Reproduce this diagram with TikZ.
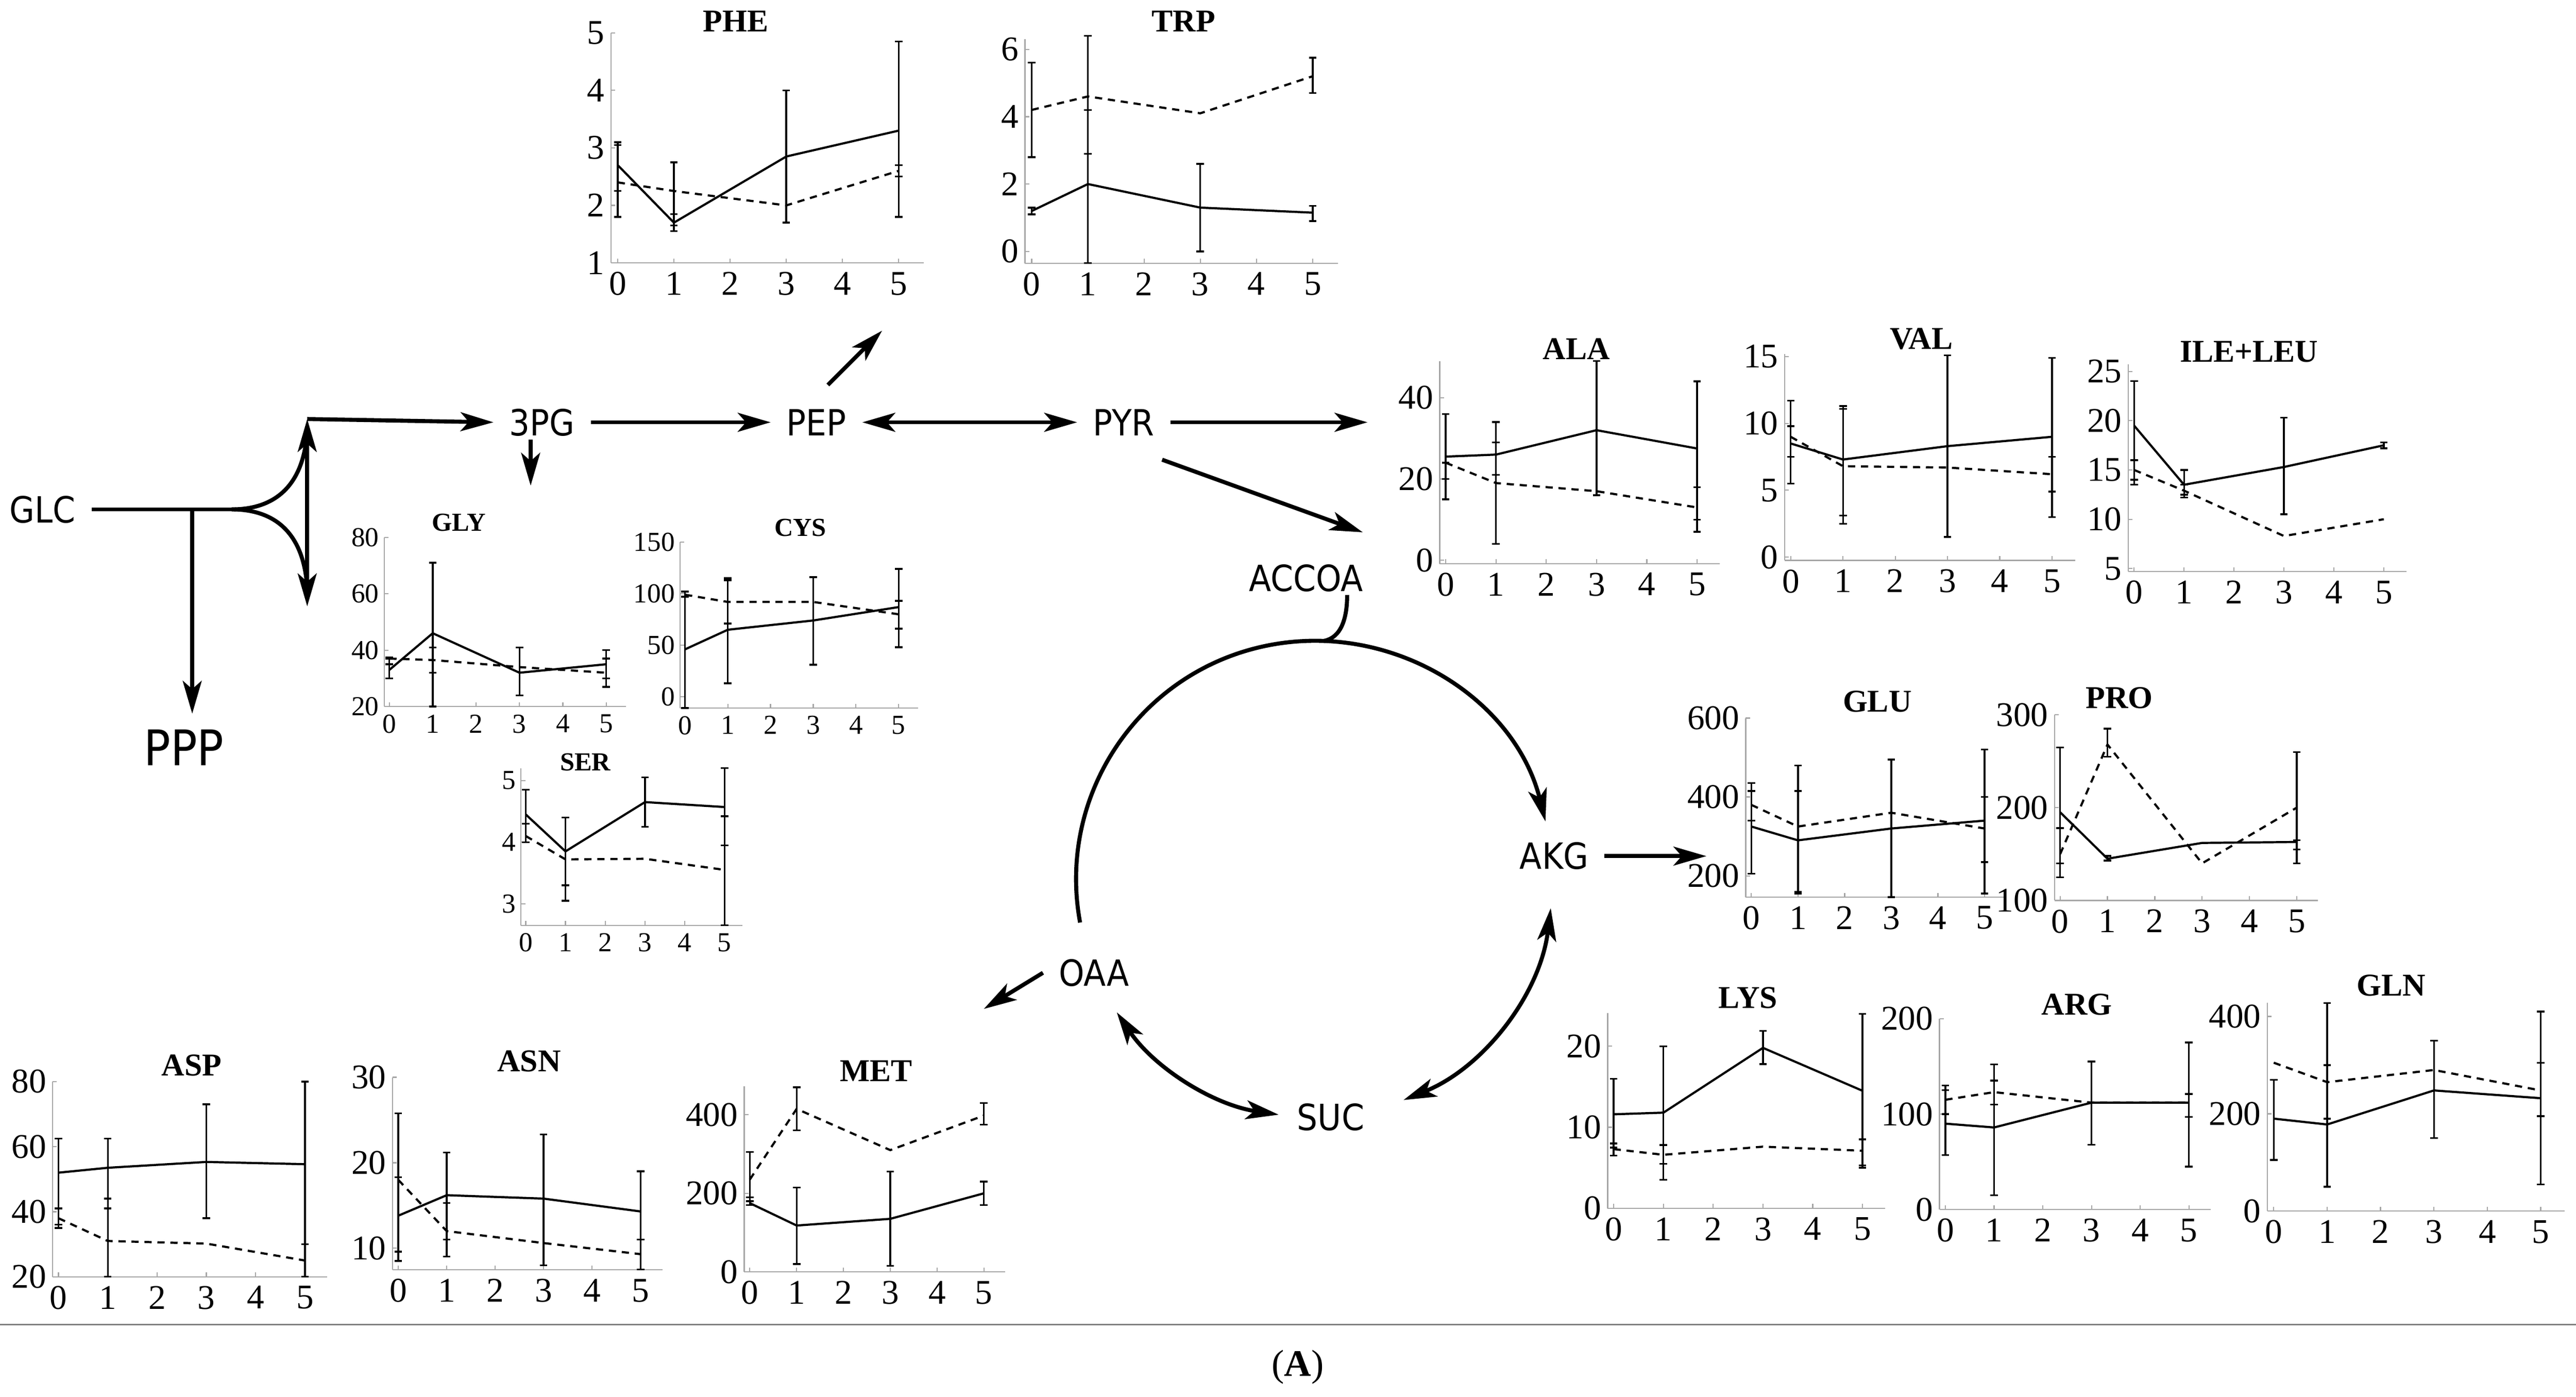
\documentclass[tikz,border=0pt]{standalone}
\usepackage{fontspec}
\setmainfont{Liberation Serif}
\newfontfamily\metfont{DejaVu Sans Condensed}
\usetikzlibrary{arrows.meta,positioning}

\tikzset{
  met/.style={font=\metfont\fontsize{12.5}{14}\selectfont, inner sep=1pt, outer sep=1.6mm},
  flux/.style={line width=1.4pt, >={Stealth[length=4mm,width=2.3mm,inset=1mm]}},
  axis/.style={draw=gray!70, line width=0.4pt},
  nums/.style={font=\fontsize{12}{13}\selectfont, inner sep=2pt},
  ttl/.style={font=\bfseries\fontsize{11}{12}\selectfont},
  ser/.style={line width=0.75pt},
  dsh/.style={line width=0.75pt, dash pattern=on 2.5pt off 2pt},
  ebar/.style={line width=0.6pt},
  plotat/.style n args={5}{shift={(#1,#2)}, x=#3*0.2mm, y=#4*0.2mm, shift={(0,-#5)}},
  small/.style={nums/.style={font=\fontsize{9.5}{10}\selectfont, inner sep=1.6pt},
                ttl/.style={font=\bfseries\fontsize{9}{10}\selectfont}}
}

% axes, ticks and title of one panel
\newcommand\aaframe[5]{%
  \draw[axis] (-0.12,#1) -- (-0.12,#2);
  \draw[axis] (-0.12,#1) -- (5.45,#1);
  \foreach \t in {0,...,5} {
    \draw[axis] (\t,#1) -- ++(0,1.5pt);
    \node[nums,below,yshift=-1pt] at (\t,#1) {\t};
  }
  \foreach \v in {#3} {
    \draw[axis] (-0.12,\v) -- ++(1.5pt,0);
    \node[nums,left] at (-0.12,\v) {\v};
  }
  \node[ttl] at (#5) {#4};
}
\newcommand\ebars[1]{%
  \foreach \xx/\lo/\hi in {#1} {
    \draw[ebar] (\xx,\lo) -- (\xx,\hi);
    \draw[ebar] ([xshift=-1.3pt]\xx,\lo) -- ([xshift=1.3pt]\xx,\lo);
    \draw[ebar] ([xshift=-1.3pt]\xx,\hi) -- ([xshift=1.3pt]\xx,\hi);
  }
}

\begin{document}
\begin{tikzpicture}[x=0.2mm, y=-0.2mm]
\useasboundingbox (0,0) rectangle (1568,850);

% metabolites
\node[met] (glc) at (26,310) {GLC};
\node[met, font=\metfont\fontsize{17}{19}\selectfont] (ppp) at (112,455) {PPP};
\node[met] (pg3) at (330,257) {3PG};
\node[met] (pep) at (497,257) {PEP};
\node[met] (pyr) at (684,257) {PYR};
\node[met] (accoa) at (795,352) {ACCOA};
\node[met] (akg) at (946,521) {AKG};
\node[met] (oaa) at (666,592) {OAA};
\node[met] (suc) at (810,680) {SUC};

\coordinate (split) at (117,310);
\coordinate (fork) at (141,310);
\coordinate (vmid) at (187,310);
\coordinate (up) at (187,255);
\coordinate (dn) at (187,369);

\draw[flux] (glc.east) -- (fork);
\draw[flux,->] (split) -- (split |- ppp.north);
\draw[flux] (fork) .. controls (168,310) and (185,295) .. (187,262);
\draw[flux] (fork) .. controls (168,310) and (185,325) .. (187,358);
\draw[flux,->] (vmid) -- (up);
\draw[flux,->] (vmid) -- (dn);
\draw[flux,->] (187,255) -- (pg3.west);
\draw[flux,->] (pg3.east) -- (pep.west);
\draw[flux,->] ([xshift=-1.4mm,yshift=1.5mm]pg3.south) -- ++(0,28);
\draw[flux,<->] (pep.east) -- (pyr.west);
\draw[flux,->] ([xshift=-4.2mm,yshift=1mm]pep.north east) -- ++(33,-33);
\draw[flux,->] (pyr.east) -- ++(120,0);
\draw[flux,->] ([xshift=-1mm,yshift=-1mm]pyr.south east) -- ([xshift=-2mm,yshift=2mm]accoa.north east);
\draw[flux] ([xshift=5mm,yshift=1.6mm]accoa.south) .. controls +(0,15) and +(10,-2) .. (806,390);
\draw[flux,->] (800,535) ++(169.5:145) arc[start angle=169.5, end angle=346, radius=145];
\draw[flux,<->] (800,535) ++(68:145) arc[start angle=68, end angle=7, radius=145];
\draw[flux,<->] (800,535) ++(146:145) arc[start angle=146, end angle=98.6, radius=145];
\draw[flux,->] (oaa.west) -- ++(-36,22);
\draw[flux,->] (akg.east) -- ++(62,0);

% PHE
\begin{scope}[plotat={376}{160}{34.2}{35}{1}]
\aaframe{1}{5}{1,2,3,4,5}{PHE}{2.1,5.2}
\draw[ser] plot coordinates {(0,2.7) (1,1.7) (3,2.85) (5,3.3)};
\draw[dsh] plot coordinates {(0,2.4) (1,2.25) (3,2.0) (5,2.6)};
\ebars{0/1.8/3.1, 1/1.55/2.75, 3/1.7/4.0, 5/1.8/4.85, 0/2.25/3.05, 1/1.65/1.85, 5/2.5/2.7}
\end{scope}
% TRP
\begin{scope}[plotat={628}{153}{34.2}{20.5}{0}]
\aaframe{-0.35}{6.3}{0,2,4,6}{TRP}{2.7,6.83}
\draw[ser] plot coordinates {(0,1.2) (1,2.0) (3,1.3) (5,1.15)};
\draw[dsh] plot coordinates {(0,4.2) (1,4.6) (3,4.1) (5,5.2)};
\ebars{0/1.1/1.3, 1/-0.35/4.2, 3/0/2.6, 5/0.9/1.35, 0/2.8/5.6, 1/2.9/6.4, 5/4.7/5.75}
\end{scope}
% GLY
\begin{scope}[small, plotat={237}{430}{26.4}{1.717}{20}]
\aaframe{20}{80}{20,40,60,80}{GLY}{1.6,85.2}
\draw[ser] plot coordinates {(0,33) (1,46) (3,32) (5,35)};
\draw[dsh] plot coordinates {(0,37) (1,36.5) (3,34) (5,32)};
\ebars{0/30/37, 1/20/71, 3/24/41, 5/27/40, 0/35/37.5, 1/32/41, 5/30/37}
\end{scope}
% CYS
\begin{scope}[small, plotat={417}{424}{26}{0.627}{0}]
\aaframe{-11}{150}{0,50,100,150}{CYS}{2.7,164}
\draw[ser] plot coordinates {(0,46) (1,65) (3,74) (5,87)};
\draw[dsh] plot coordinates {(0,99) (1,92) (3,92) (5,80)};
\ebars{0/-11/97, 1/13/115, 3/31/116, 5/48/124, 0/97/102, 1/71/113, 5/66/93}
\end{scope}
% SER
\begin{scope}[small, plotat={320}{550}{24.2}{37.5}{3}]
\aaframe{2.65}{5.2}{3,4,5}{SER}{1.5,5.3}
\draw[ser] plot coordinates {(0,4.45) (1,3.85) (3,4.65) (5,4.57)};
\draw[dsh] plot coordinates {(0,4.1) (1,3.72) (3,3.73) (5,3.55)};
\ebars{0/4.0/4.85, 1/3.05/4.4, 3/4.25/5.05, 5/2.65/5.2, 0/4.0/4.3, 1/3.3/4.4, 5/3.95/4.42}
\end{scope}
% ALA
\begin{scope}[plotat={880}{341}{30.6}{2.475}{0}]
\aaframe{-0.8}{48.9}{0,20,40}{ALA}{2.6,52}
\draw[ser] plot coordinates {(0,25.5) (1,26) (3,32) (5,27.5)};
\draw[dsh] plot coordinates {(0,24) (1,19) (3,17) (5,13)};
\ebars{0/15/36, 1/4/34, 3/16/49, 5/7/44, 0/20/24, 1/21/29, 5/10/18}
\end{scope}
% VAL
\begin{scope}[plotat={1090}{339}{31.8}{8.13}{0}]
\aaframe{-0.25}{15.2}{0,5,10,15}{VAL}{2.5,16.35}
\draw[ser] plot coordinates {(0,8.5) (1,7.3) (3,8.3) (5,9)};
\draw[dsh] plot coordinates {(0,9) (1,6.8) (3,6.7) (5,6.2)};
\ebars{0/5.5/11.7, 1/2.5/11.3, 3/1.5/15.1, 5/3/14.9, 0/7.5/9.8, 1/3.1/11.1, 5/4.9/7.5}
\end{scope}
% ILE+LEU
\begin{scope}[plotat={1299}{346}{30.4}{6}{5}]
\aaframe{4.7}{25.7}{5,10,15,20,25}{ILE+LEU}{2.3,27}
\draw[ser] plot coordinates {(0,19.5) (1,13.5) (3,15.3) (5,17.5)};
\draw[dsh] plot coordinates {(0,15) (1,12.9) (3,8.3) (5,10)};
\ebars{0/13.5/24, 1/12.5/15, 3/10.5/20.3, 5/17.2/17.8, 0/14/16, 1/12.2/13.5}
\end{scope}
% GLU
\begin{scope}[plotat={1066}{533}{28.4}{0.24}{200}]
\aaframe{146}{600}{200,400,600}{GLU}{2.7,642}
\draw[ser] plot coordinates {(0,325) (1,290) (3,320) (5,340)};
\draw[dsh] plot coordinates {(0,380) (1,325) (3,360) (5,320)};
\ebars{0/205/435, 1/160/480, 3/146/495, 5/155/520, 0/340/415, 1/155/415, 5/235/400}
\end{scope}
% PRO
\begin{scope}[plotat={1254}{548}{28.8}{0.565}{100}]
\aaframe{100}{300}{100,200,300}{PRO}{1.25,318}
\draw[ser] plot coordinates {(0,195) (1,145) (3,162) (5,163)};
\draw[dsh] plot coordinates {(0,150) (1,268) (3,140) (5,200)};
\ebars{0/125/265, 1/143/148, 5/140/260, 0/140/178, 1/255/285, 5/155/165}
\end{scope}
% ASP
\begin{scope}[plotat={35.6}{777}{30}{1.98}{20}]
\aaframe{20}{80}{20,40,60,80}{ASP}{2.7,85}
\draw[ser] plot coordinates {(0,52) (1,53.5) (3,55.3) (5,54.6)};
\draw[dsh] plot coordinates {(0,38) (1,31) (3,30.2) (5,25)};
\ebars{0/36/62.5, 1/20/62.5, 3/38/73, 5/20/80, 0/35/41, 1/41/44, 5/20/30}
\end{scope}
% ASN
\begin{scope}[plotat={242.4}{759.6}{29.5}{5.2}{10}]
\aaframe{7.46}{30}{10,20,30}{ASN}{2.7,31.9}
\draw[ser] plot coordinates {(0,13.8) (1,16.2) (3,15.8) (5,14.3)};
\draw[dsh] plot coordinates {(0,18) (1,12) (3,10.6) (5,9.3)};
\ebars{0/8.5/25.8, 1/9/21.2, 3/8/23.3, 5/7.5/19, 0/9.6/18.3, 1/11/15.3, 5/7.5/11}
\end{scope}
% MET
\begin{scope}[plotat={456.4}{774}{28.5}{0.239}{0}]
\aaframe{0}{473}{0,200,400}{MET}{2.7,512}
\draw[ser] plot coordinates {(0,175) (1,118) (3,135) (5,200)};
\draw[dsh] plot coordinates {(0,235) (1,415) (3,310) (5,398)};
\ebars{0/170/190, 1/20/215, 3/15/255, 5/170/230, 0/180/305, 1/360/470, 5/375/430}
\end{scope}
% LYS
\begin{scope}[plotat={982.2}{735.3}{30.3}{4.93}{0}]
\aaframe{0}{24.1}{0,10,20}{LYS}{2.7,26}
\draw[ser] plot coordinates {(0,11.6) (1,11.8) (3,19.8) (5,14.5)};
\draw[dsh] plot coordinates {(0,7.3) (1,6.6) (3,7.6) (5,7.1)};
\ebars{0/7.5/16, 1/3.5/20, 3/17.8/21.9, 5/5.3/24, 0/6.5/8, 1/5.5/7.8, 5/5/8.5}
\end{scope}
% ARG
\begin{scope}[plotat={1184.1}{736.1}{29.66}{0.581}{0}]
\aaframe{0}{200}{0,100,200}{ARG}{2.7,215}
\draw[ser] plot coordinates {(0,90) (1,86) (3,112) (5,112)};
\draw[dsh] plot coordinates {(0,115) (1,123) (3,112) (5,112)};
\ebars{0/57/130, 1/15/152, 3/68/155, 5/45/175, 0/100/125, 1/110/135, 5/97/121}
\end{scope}
% GLN
\begin{scope}[plotat={1384}{737}{32.5}{0.296}{0}]
\aaframe{0}{428}{0,200,400}{GLN}{2.2,464}
\draw[ser] plot coordinates {(0,190) (1,178) (3,248) (5,232)};
\draw[dsh] plot coordinates {(0,305) (1,265) (3,290) (5,248)};
\ebars{0/105/270, 1/50/428, 3/150/350, 5/55/410, 1/190/300, 5/195/305}
\end{scope}

% caption
\draw[gray, line width=0.5pt] (0,806) -- (1568,806);
\node[font=\fontsize{13}{15}\selectfont] (cap) at (790,832) {(\textbf{A})};
\end{tikzpicture}
\end{document}
